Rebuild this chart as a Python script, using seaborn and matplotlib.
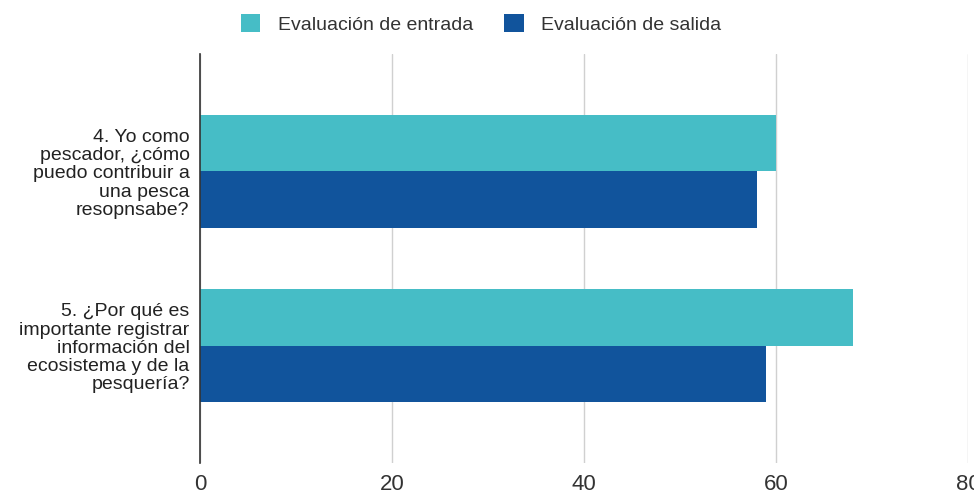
import pandas as pd
import matplotlib
matplotlib.use("Agg")
import matplotlib.pyplot as plt
import seaborn as sns

# Data
questions = [
    "4. Yo como\npescador, ¿cómo\npuedo contribuir a\nuna pesca\nresopnsabe?",
    "5. ¿Por qué es\nimportante registrar\ninformación del\necosistema y de la\npesquería?",
]
series = ["Evaluación de entrada", "Evaluación de salida"]
entrada = [60, 68]
salida = [58, 59]
xticks = [0, 20, 40, 60, 80]

COLORS = ["#46bdc6", "#11549c"]

df = pd.DataFrame({
    "pregunta": questions * 2,
    "serie": [series[0]] * 2 + [series[1]] * 2,
    "valor": entrada + salida,
})

sns.set_style("white")
plt.rcParams["font.family"] = ["Liberation Sans", "DejaVu Sans"]

fig = plt.figure(figsize=(9.74, 4.96), dpi=100)
ax = fig.add_axes([200 / 974, 1 - 463 / 496, 768 / 974, 409 / 496])

sns.barplot(data=df, y="pregunta", x="valor", hue="serie", order=questions,
            hue_order=series, palette=COLORS, width=0.65, orient="h",
            saturation=1, linewidth=0, ax=ax, legend=True)

ax.set_xlim(0, 80)
ax.set_ylim(1.675, -0.675)
ax.set_xticks(xticks)
ax.set_xlabel("")
ax.set_ylabel("")
ax.grid(axis="x", color="#d0d0d0", linewidth=1)
ax.set_axisbelow(True)
for s in ["top", "right", "bottom"]:
    ax.spines[s].set_visible(False)
ax.spines["left"].set_color("#333333")
ax.spines["left"].set_linewidth(1.2)
ax.spines["left"].set_zorder(5)
ax.tick_params(axis="x", length=0, pad=8, labelsize=16, labelcolor="#333333")
ax.tick_params(axis="y", length=0, pad=7.5, labelsize=14, labelcolor="#222222")
for lbl in ax.get_yticklabels():
    lbl.set_horizontalalignment("right")
    lbl.set_linespacing(1.08)

handles, labels = ax.get_legend_handles_labels()
ax.legend_.remove()
fig.legend(handles, labels, loc="center", bbox_to_anchor=(0.494, 1 - 24 / 496),
           ncol=2, frameon=False, fontsize=14, handlelength=1.0, handleheight=1.0,
           columnspacing=1.6, handletextpad=0.9, labelcolor="#333333")

fig.savefig("out.png", dpi=100)
